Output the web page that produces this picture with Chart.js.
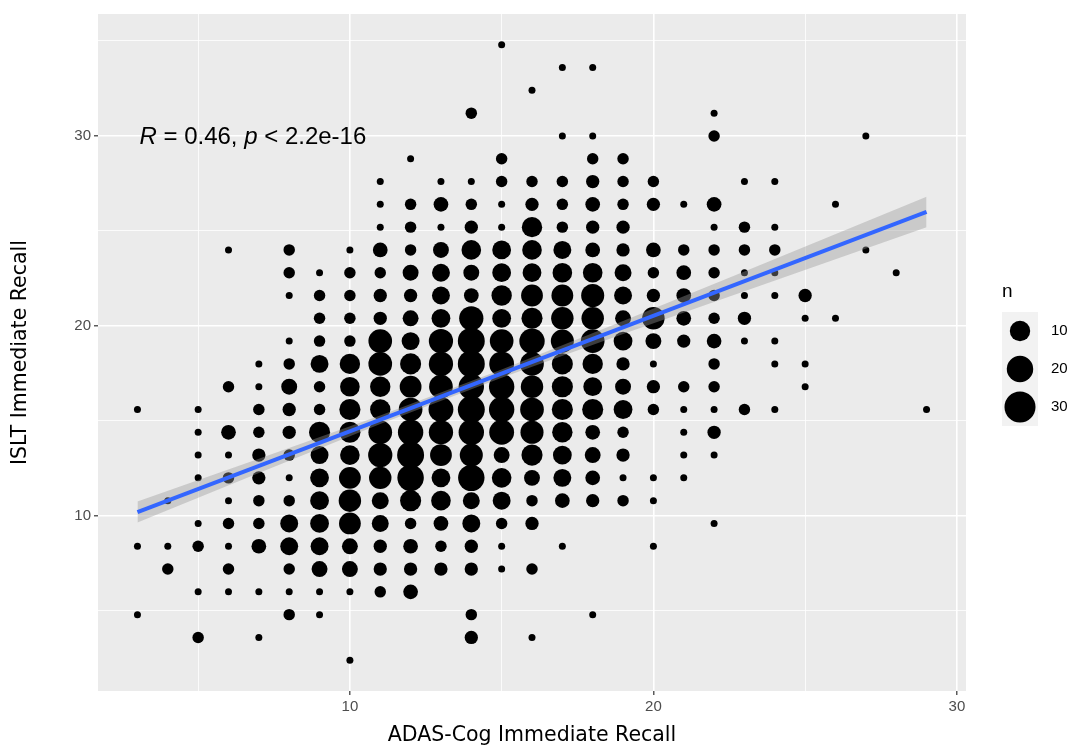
<!DOCTYPE html>
<html>
<head>
<meta charset="utf-8">
<script src="https://cdn.jsdelivr.net/npm/chart.js@4.4.1/dist/chart.umd.min.js"></script>
<style>
  html, body { margin: 0; padding: 0; background: #fff; }
  #wrap { width: 1073px; height: 748px; }
</style>
</head>
<body>
<div id="wrap"><canvas id="recall" width="1073" height="748"></canvas></div>
<script>
// ADAS-Cog immediate recall score, and for each score the ISLT values seen with their counts
const adasScores = [3, 4, 5, 6, 7, 8, 9, 10, 11, 12, 13, 14, 15, 16, 17, 18, 19, 20, 21, 22, 23, 24, 25, 26, 27, 28, 29];

const isltByScore = [
  [15.6, 8.4, 4.8],
  [10.8, 8.4, 7.2],
  [15.6, 14.4, 13.2, 12, 9.6, 8.4, 6, 3.6],
  [24, 16.8, 14.4, 13.2, 12, 10.8, 9.6, 8.4, 7.2, 6],
  [18, 16.8, 15.6, 14.4, 13.2, 12, 10.8, 9.6, 8.4, 6, 3.6],
  [24, 22.8, 21.6, 19.2, 18, 16.8, 15.6, 14.4, 13.2, 12, 10.8, 9.6, 8.4, 7.2, 6, 4.8],
  [22.8, 21.6, 20.4, 19.2, 18, 16.8, 15.6, 14.4, 13.2, 12, 10.8, 9.6, 8.4, 7.2, 6, 4.8],
  [24, 22.8, 21.6, 20.4, 19.2, 18, 16.8, 15.6, 14.4, 13.2, 12, 10.8, 9.6, 8.4, 7.2, 6, 2.4],
  [27.6, 26.4, 25.2, 24, 22.8, 21.6, 20.4, 19.2, 18, 16.8, 15.6, 14.4, 13.2, 12, 10.8, 9.6, 8.4, 7.2, 6],
  [28.8, 26.4, 25.2, 24, 22.8, 21.6, 20.4, 19.2, 18, 16.8, 15.6, 14.4, 13.2, 12, 10.8, 9.6, 8.4, 7.2, 6],
  [27.6, 26.4, 25.2, 24, 22.8, 21.6, 20.4, 19.2, 18, 16.8, 15.6, 14.4, 13.2, 12, 10.8, 9.6, 8.4, 7.2],
  [31.2, 27.6, 26.4, 25.2, 24, 22.8, 21.6, 20.4, 19.2, 18, 16.8, 15.6, 14.4, 13.2, 12, 10.8, 9.6, 8.4, 7.2, 4.8, 3.6],
  [34.8, 28.8, 27.6, 26.4, 25.2, 24, 22.8, 21.6, 20.4, 19.2, 18, 16.8, 15.6, 14.4, 13.2, 12, 10.8, 9.6, 8.4, 7.2],
  [32.4, 27.6, 26.4, 25.2, 24, 22.8, 21.6, 20.4, 19.2, 18, 16.8, 15.6, 14.4, 13.2, 12, 10.8, 9.6, 7.2, 3.6],
  [33.6, 30, 27.6, 26.4, 25.2, 24, 22.8, 21.6, 20.4, 19.2, 18, 16.8, 15.6, 14.4, 13.2, 12, 10.8, 8.4],
  [33.6, 30, 28.8, 27.6, 26.4, 25.2, 24, 22.8, 21.6, 20.4, 19.2, 18, 16.8, 15.6, 14.4, 13.2, 12, 10.8, 4.8],
  [28.8, 27.6, 26.4, 25.2, 24, 22.8, 21.6, 20.4, 19.2, 18, 16.8, 15.6, 14.4, 13.2, 12, 10.8],
  [27.6, 26.4, 24, 22.8, 21.6, 20.4, 19.2, 18, 16.8, 15.6, 12, 10.8, 8.4],
  [26.4, 24, 22.8, 21.6, 20.4, 19.2, 16.8, 15.6, 14.4, 13.2, 12],
  [31.2, 30, 26.4, 25.2, 24, 22.8, 21.6, 20.4, 19.2, 18, 16.8, 15.6, 14.4, 13.2, 9.6],
  [27.6, 25.2, 24, 22.8, 21.6, 20.4, 19.2, 15.6],
  [27.6, 25.2, 24, 22.8, 21.6, 19.2, 18, 15.6],
  [21.6, 20.4, 18, 16.8],
  [26.4, 20.4],
  [30, 24],
  [22.8],
  [15.6]
];

const countByScore = [
  [1, 1, 1],
  [1, 1, 2],
  [1, 1, 1, 1, 1, 2, 1, 2],
  [1, 2, 4, 1, 2, 1, 2, 1, 2, 1],
  [1, 1, 2, 2, 3, 3, 2, 2, 4, 1, 1],
  [2, 2, 1, 1, 2, 5, 3, 3, 2, 1, 2, 7, 7, 2, 1, 2],
  [1, 2, 2, 2, 7, 2, 2, 11, 7, 8, 8, 8, 7, 5, 1, 1],
  [1, 2, 2, 2, 2, 10, 9, 11, 11, 9, 12, 13, 12, 5, 5, 1, 1],
  [1, 1, 1, 4, 2, 3, 3, 15, 15, 10, 10, 15, 16, 13, 6, 6, 3, 3, 2],
  [1, 2, 2, 2, 5, 3, 5, 7, 11, 12, 15, 18, 21, 20, 11, 2, 4, 3, 4],
  [1, 4, 1, 5, 7, 7, 8, 16, 16, 15, 17, 16, 12, 8, 9, 4, 2, 3],
  [2, 1, 2, 3, 9, 5, 4, 16, 21, 21, 18, 21, 18, 14, 20, 6, 7, 3, 3, 2, 3],
  [1, 2, 2, 1, 1, 8, 8, 10, 8, 15, 17, 18, 18, 17, 5, 9, 7, 2, 1, 1],
  [1, 2, 3, 10, 9, 8, 12, 11, 18, 15, 13, 15, 14, 11, 5, 2, 3, 2, 1],
  [1, 1, 2, 2, 2, 7, 9, 12, 13, 14, 11, 11, 11, 10, 8, 7, 4, 1],
  [1, 1, 2, 3, 4, 3, 4, 9, 14, 13, 15, 10, 8, 11, 4, 5, 4, 3, 1],
  [2, 2, 2, 3, 3, 6, 7, 5, 8, 3, 5, 8, 2, 3, 1, 2],
  [2, 3, 4, 2, 3, 13, 5, 1, 3, 2, 1, 1, 1],
  [1, 2, 4, 4, 4, 3, 2, 1, 1, 1, 1],
  [1, 2, 4, 1, 2, 2, 2, 2, 4, 2, 2, 1, 3, 1, 1],
  [1, 2, 2, 1, 1, 3, 1, 2],
  [1, 1, 2, 1, 1, 1, 1, 1],
  [3, 1, 1, 1],
  [1, 1],
  [1, 1],
  [1],
  [1]
];

// linear fit with its confidence band
const fitX = [3, 29];
const fitY = [10.2, 26.0];
const bandX = [3, 7, 11, 15, 19, 23, 29];
const bandLow = [9.65, 12.26, 14.83, 17.27, 19.58, 21.83, 25.2];
const bandHigh = [10.75, 13.0, 15.29, 17.71, 20.26, 22.87, 26.8];

// axis breaks (labelled every 10, minor lines halfway)
const xBreaks = [5, 10, 15, 20, 25, 30];
const yBreaks = [5, 10, 15, 20, 25, 30, 35];

const legendCounts = [10, 20, 30];
const corX = 3, corY = 30;

// area scale for n, same as ggplot's scale_size
function dotRadius(n) {
  return (7 + 26 * Math.sqrt((n - 1) / 34)) / 2;
}

const dots = [];
adasScores.forEach((a, i) => {
  isltByScore[i].forEach((v, j) => {
    const n = countByScore[i][j];
    dots.push({ x: a, y: v, r: dotRadius(n), n: n });
  });
});

const isMajor = v => v % 10 === 0;
const FONT = '"Liberation Sans", Arial, sans-serif';
const TITLE_FONT = '"DejaVu Sans", sans-serif';

const panelBg = {
  id: 'panelBg',
  beforeDraw(chart) {
    const { ctx, chartArea: a } = chart;
    ctx.save();
    ctx.fillStyle = '#ffffff';
    ctx.fillRect(0, 0, chart.width, chart.height);
    ctx.fillStyle = '#EBEBEB';
    ctx.fillRect(a.left, a.top, a.right - a.left, a.bottom - a.top);
    ctx.restore();
  }
};

const extras = {
  id: 'extras',
  afterDraw(chart) {
    const { ctx } = chart;
    const xs = chart.scales.x, ys = chart.scales.y;

    // correlation label
    let px = xs.getPixelForValue(corX) + 2;
    const py = ys.getPixelForValue(corY) + 8;
    const parts = [['R', true], [' = 0.46, ', false], ['p', true], [' < 2.2e-16', false]];
    ctx.save();
    ctx.fillStyle = '#000';
    ctx.textBaseline = 'alphabetic';
    parts.forEach(([t, it]) => {
      ctx.font = (it ? 'italic ' : '') + '24px ' + FONT;
      ctx.fillText(t, px, py);
      px += ctx.measureText(t).width;
    });

    // size legend
    ctx.font = '19px ' + FONT;
    ctx.fillText('n', 1002, 297);
    ctx.fillStyle = '#F2F2F2';
    ctx.fillRect(1002, 312, 36, 114);
    legendCounts.forEach((n, i) => {
      const cy = 331 + i * 38;
      ctx.fillStyle = '#000';
      ctx.beginPath();
      ctx.arc(1020, cy, dotRadius(n), 0, Math.PI * 2);
      ctx.fill();
      ctx.font = '15px ' + FONT;
      ctx.textBaseline = 'middle';
      ctx.fillText(String(n), 1051, cy);
    });
    ctx.restore();
  }
};

function gridFor() {
  return {
    color: '#FFFFFF',
    lineWidth: c => (c.tick && isMajor(c.tick.value) ? 1.6 : 0.8),
    tickColor: c => (c.tick && isMajor(c.tick.value) ? '#333333' : 'rgba(0,0,0,0)'),
    tickLength: 4,
    tickWidth: 1.2
  };
}

new Chart(document.getElementById('recall'), {
  type: 'bubble',
  data: {
    datasets: [
      {
        type: 'line',
        data: fitX.map((x, i) => ({ x: x, y: fitY[i] })),
        borderColor: '#3366FF',
        borderWidth: 4,
        pointRadius: 0,
        fill: false,
        order: 0
      },
      {
        type: 'line',
        data: bandX.map((x, i) => ({ x: x, y: bandLow[i] })),
        borderColor: 'transparent',
        borderWidth: 1,
        pointRadius: 0,
        fill: false,
        order: 1
      },
      {
        type: 'line',
        data: bandX.map((x, i) => ({ x: x, y: bandHigh[i] })),
        borderColor: 'transparent',
        borderWidth: 1,
        pointRadius: 0,
        backgroundColor: 'rgba(153,153,153,0.4)',
        fill: '-1',
        order: 1
      },
      {
        data: dots,
        backgroundColor: '#000000',
        borderWidth: 0,
        order: 2
      }
    ]
  },
  options: {
    responsive: false,
    animation: false,
    events: [],
    layout: { padding: { top: 14, right: 107, left: 0, bottom: 0 } },
    plugins: { legend: { display: false }, tooltip: { enabled: false } },
    scales: {
      x: {
        type: 'linear',
        min: 1.7,
        max: 30.3,
        afterBuildTicks: s => { s.ticks = xBreaks.map(v => ({ value: v })); },
        afterFit: s => { s.height = 57; },
        grid: gridFor(),
        border: { display: false },
        ticks: {
          callback: v => (isMajor(v) ? String(v) : ''),
          color: '#4D4D4D',
          font: { family: FONT, size: 15 },
          padding: 3,
          maxRotation: 0,
          autoSkip: false
        },
        title: {
          display: true,
          text: 'ADAS-Cog Immediate Recall',
          color: '#000',
          font: { family: TITLE_FONT, size: 20.5 },
          padding: { top: 0, bottom: 0 }
        }
      },
      y: {
        type: 'linear',
        min: 0.78,
        max: 36.42,
        afterBuildTicks: s => { s.ticks = yBreaks.map(v => ({ value: v })); },
        afterFit: s => { s.width = 98; },
        grid: gridFor(),
        border: { display: false },
        ticks: {
          callback: v => (isMajor(v) ? String(v) : ''),
          color: '#4D4D4D',
          font: { family: FONT, size: 15 },
          padding: 3,
          autoSkip: false
        },
        title: {
          display: true,
          text: 'ISLT Immediate Recall',
          color: '#000',
          font: { family: TITLE_FONT, size: 20.5 },
          padding: { top: 8, bottom: 0 }
        }
      }
    }
  },
  plugins: [panelBg, extras]
});
</script>
</body>
</html>
